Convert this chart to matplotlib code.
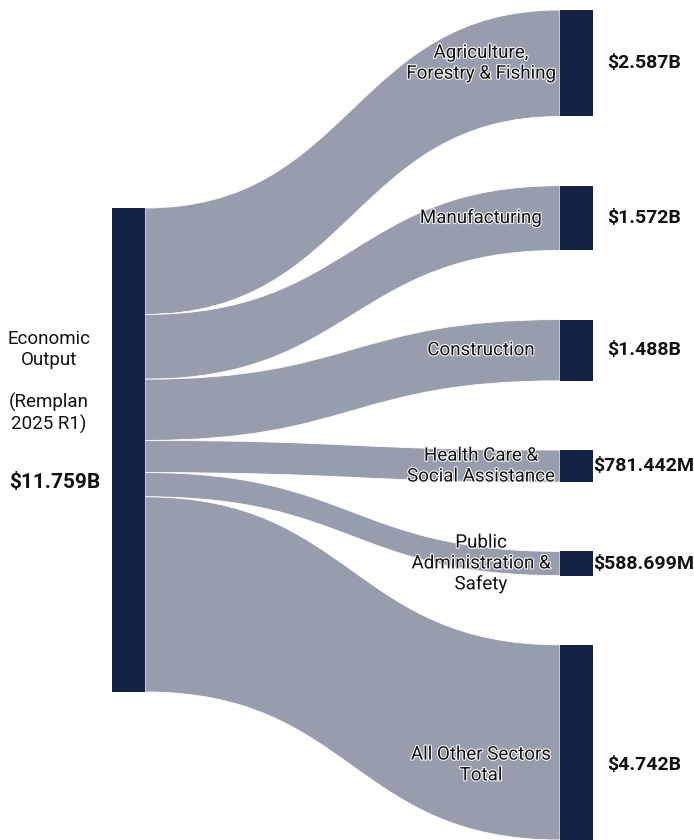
import matplotlib
matplotlib.use("Agg")
import matplotlib.pyplot as plt
from matplotlib.path import Path
from matplotlib.patches import PathPatch, Rectangle
import matplotlib.patheffects as pe

# ---- data ----
source_label = "Economic\nOutput\n\n(Remplan\n2025 R1)"
source_value_label = "$11.759B"
sectors = ["Agriculture,\nForestry & Fishing", "Manufacturing", "Construction",
           "Health Care &\nSocial Assistance", "Public\nAdministration &\nSafety",
           "All Other Sectors\nTotal"]
values_b = [2.587, 1.572, 1.488, 0.781442, 0.588699, 4.742]
value_labels = ["$2.587B", "$1.572B", "$1.488B", "$781.442M", "$588.699M", "$4.742B"]

# ---- style / layout ----
W, H = 694, 840
NODE = "#152245"
LINK = "#989DAE"
FONT = ["Roboto", "DejaVu Sans"]
plt.rcParams["font.family"] = FONT

fig = plt.figure(figsize=(W / 100, H / 100), dpi=100)
ax = fig.add_axes([0, 0, 1, 1])
ax.set_xlim(0, W)
ax.set_ylim(H, 0)
ax.axis("off")

total = sum(values_b)
left_top, left_h = 208, 484
k = left_h / total
lx0, lx1 = 112, 145
rx0, rx1 = 560, 593
gap = 69.2
right_top = 10

halo = [pe.withStroke(linewidth=1.5, foreground="white")]

# links
sy = left_top
ty = right_top
right_pos = []
for v in values_b:
    h = v * k
    xm = (lx1 + rx0) / 2
    verts = [(lx1, sy), (xm, sy), (xm, ty), (rx0, ty),
             (rx0, ty + h), (xm, ty + h), (xm, sy + h), (lx1, sy + h), (lx1, sy)]
    codes = [Path.MOVETO, Path.CURVE4, Path.CURVE4, Path.CURVE4,
             Path.LINETO, Path.CURVE4, Path.CURVE4, Path.CURVE4, Path.CLOSEPOLY]
    ax.add_patch(PathPatch(Path(verts, codes), facecolor=LINK, edgecolor="white",
                           linewidth=0.6, zorder=1))
    right_pos.append((ty, h))
    sy += h
    ty += h + gap

# nodes
ax.add_patch(Rectangle((lx0, left_top), lx1 - lx0, left_h, facecolor=NODE,
                       edgecolor="none", zorder=2))
for (t, h) in right_pos:
    ax.add_patch(Rectangle((rx0, t), rx1 - rx0, h, facecolor=NODE,
                           edgecolor="none", zorder=2))

# labels
fs = 13.5
for i, (name, vl) in enumerate(zip(sectors, value_labels)):
    t, h = right_pos[i]
    cy = t + h / 2
    if i == len(sectors) - 1:
        cy = 765
    ax.text(481, cy, name, ha="center", va="center", ma="center", fontsize=fs,
            color="#111111", linespacing=1.2, path_effects=halo, zorder=3)
    ax.text(644, cy, vl, ha="center", va="center", fontsize=14, fontweight="bold",
            color="#111111", zorder=3)

ax.text(49, 382, source_label, ha="center", va="center", ma="center", fontsize=fs,
        color="#111111", linespacing=1.2, zorder=3)
ax.text(55, 483, source_value_label, ha="center", va="center", fontsize=15,
        fontweight="bold", color="#111111", zorder=3)

fig.savefig("out.png", dpi=100, facecolor="white")
